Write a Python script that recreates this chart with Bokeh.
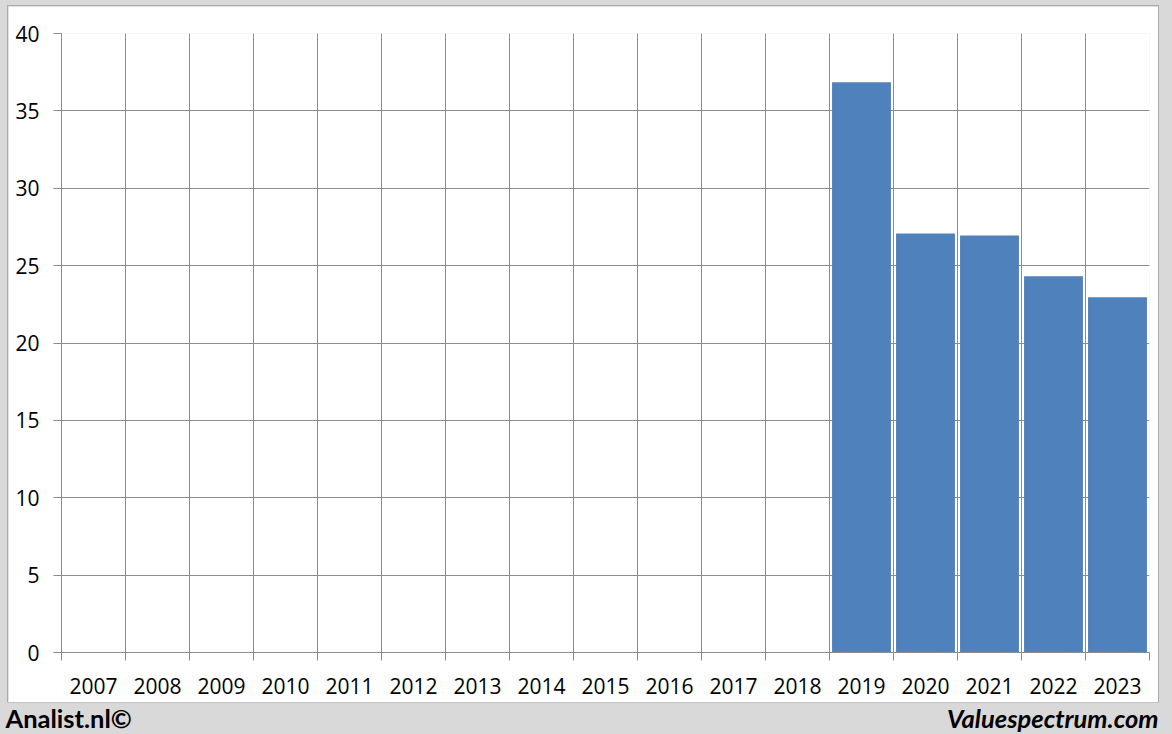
import math
from bokeh.plotting import figure
from bokeh.models import FixedTicker, Range1d, ColumnDataSource, Label
from bokeh.layouts import column
from bokeh.core.properties import value
from bokeh.embed import file_html
from bokeh.resources import INLINE

# ---- data ----
years = [str(y) for y in range(2007, 2024)]
values = [None] * 12 + [36.85, 27.08, 26.95, 24.32, 22.96]
y_ticks = [0, 5, 10, 15, 20, 25, 30, 35, 40]
footer_left = "Analist.nl©"
footer_right = "Valuespectrum.com"

FONT = "Open Sans"
FOOT_FONT = "Lato"
GRID = "#8c8c8c"
BAR = "#4f81bd"
GRAY_BG = "#d9d9d9"

n = len(years)
idx = list(range(n))
bounds = [i - 0.5 for i in range(n + 1)]

xs = [i for i, v in zip(idx, values) if v is not None]
tops = [v for v in values if v is not None]
src = ColumnDataSource(dict(x=xs, top=tops))

p = figure(width=1150, height=696, x_range=Range1d(-0.5, n - 0.5), y_range=Range1d(0, 40),
           output_backend="svg", toolbar_location=None,
           min_border_left=53, min_border_right=9, min_border_top=27, min_border_bottom=50)
p.margin = (6, 0, 0, 8)
p.styles = {"outline": "1px solid #ababab"}
p.background_fill_color = "white"
p.border_fill_color = "white"
p.outline_line_color = None

p.vbar(x="x", top="top", bottom=0, width=0.92, source=src, fill_color=BAR, line_color=None)

# x axis
xa = p.xaxis[0]
xa.ticker = FixedTicker(ticks=idx, minor_ticks=bounds)
xa.major_label_overrides = {i: y for i, y in zip(idx, years)}
xa.major_tick_line_color = None
xa.major_tick_out = 0
xa.major_tick_in = 0
xa.minor_tick_out = 8
xa.minor_tick_in = 0
xa.minor_tick_line_color = GRID
xa.axis_line_color = GRID
xa.major_label_text_font = FONT
xa.major_label_text_font_size = "21px"
xa.major_label_text_color = "black"
xa.major_label_standoff = 17

ya = p.yaxis[0]
ya.ticker = FixedTicker(ticks=y_ticks)
ya.major_tick_out = 8
ya.major_tick_in = 0
ya.major_tick_line_color = GRID
ya.minor_tick_line_color = None
ya.axis_line_color = GRID
ya.major_label_text_font = FONT
ya.major_label_text_font_size = "21px"
ya.major_label_text_color = "black"
ya.major_label_standoff = 14

p.xgrid.ticker = FixedTicker(ticks=bounds)
p.xgrid.grid_line_color = GRID
p.ygrid.ticker = FixedTicker(ticks=y_ticks)
p.ygrid.grid_line_color = GRID

# footer
f = figure(width=1172, height=32, x_range=Range1d(0, 1172), y_range=Range1d(0, 32),
           output_backend="svg", toolbar_location=None, min_border=0)
f.axis.visible = False
f.grid.visible = False
f.outline_line_color = None
f.background_fill_color = GRAY_BG
f.border_fill_color = GRAY_BG
f.add_layout(Label(x=5, y=17, x_units="screen", y_units="screen", text=footer_left,
                   text_font=FOOT_FONT, text_font_style="bold", text_font_size="25.5px",
                   text_color="black", text_baseline="middle", text_align="left"))
f.add_layout(Label(x=1158, y=17, x_units="screen", y_units="screen", text=footer_right,
                   text_font=FOOT_FONT, text_font_style="bold italic", text_font_size="25.5px",
                   text_color="black", text_baseline="middle", text_align="right"))

for fig in (p, f):
    if "frame_align" in fig.properties():
        fig.frame_align = False

layout = column(p, f, spacing=0, styles={"background-color": GRAY_BG})
open("out.html", "w").write(file_html(layout, INLINE))
